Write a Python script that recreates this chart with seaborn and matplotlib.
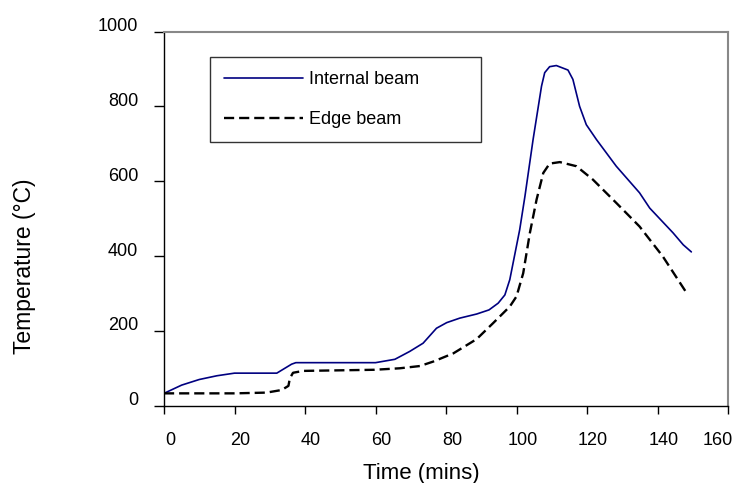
import matplotlib
matplotlib.use("Agg")
import matplotlib.pyplot as plt
import matplotlib.transforms as mtransforms
import seaborn as sns
import pandas as pd

# Internal beam (solid)
internal_time = [0, 5, 10, 15, 20, 32, 36.2, 37.4, 60, 65.5, 69.7, 73.5, 77.3, 80.2, 83.9,
                 88.7, 92.2, 94.8, 96.7, 98.1, 100.9, 102.4, 104.7, 107.1, 108, 109.4,
                 111.3, 114.6, 116, 117.9, 119.8, 122.7, 128.3, 134.9, 137.8, 144.4, 147.3, 149.6]
internal_temp = [33, 55, 70, 80, 87, 87, 111, 115, 115, 124, 145, 167, 207, 222, 234,
                 245, 256, 274, 296, 337, 470, 560, 711, 854, 890, 906,
                 909, 897, 872, 800, 751, 711, 640, 569, 528, 462, 430, 411]

# Edge beam (dashed)
edge_time = [0, 20, 29.1, 33.4, 35.3, 35.7, 36.6, 39.5, 59.7, 66.9, 72.6, 76.4, 82.1,
             88.7, 93.4, 98.1, 100, 101.9, 103.8, 105.7, 107.6, 109.4, 112.3, 117,
             121.7, 128.3, 134.9, 141.5, 148]
edge_temp = [33, 33, 35, 42, 53, 73, 88, 93, 96, 100, 106, 118, 140,
             178, 221, 265, 292, 354, 462, 551, 622, 647, 651, 640,
             604, 542, 479, 399, 305]

series_names = ["Internal beam", "Edge beam"]
x_ticks = [0, 20, 40, 60, 80, 100, 120, 140, 160]
y_ticks = [0, 200, 400, 600, 800, 1000]

df = pd.concat([
    pd.DataFrame({"Time": internal_time, "Temp": internal_temp, "Series": series_names[0]}),
    pd.DataFrame({"Time": edge_time, "Temp": edge_temp, "Series": series_names[1]}),
], ignore_index=True)

sns.set_theme(style="white")
plt.rcParams["font.family"] = ["Liberation Sans", "DejaVu Sans"]
plt.rcParams["text.color"] = "black"
plt.rcParams["xtick.color"] = "black"
plt.rcParams["ytick.color"] = "black"
plt.rcParams["axes.labelcolor"] = "black"

W, H = 737, 483
fig = plt.figure(figsize=(W / 100, H / 100), dpi=100)
ax = fig.add_axes([164 / W, 1 - 405.7 / H, (728 - 164) / W, (405.7 - 31.5) / H])

line_widths = [1.2, 1.7]
sns.lineplot(data=df, x="Time", y="Temp", hue="Series", style="Series",
             hue_order=series_names, style_order=series_names,
             palette={series_names[0]: "#000080", series_names[1]: "#000000"},
             dashes={series_names[0]: "", series_names[1]: (4.3, 2.1)},
             sort=False, estimator=None, ax=ax, legend=True)

for line, lw in zip(ax.lines, line_widths):
    line.set_linewidth(lw)

ax.set_xlim(0, 160)
ax.set_ylim(0, 1000)
ax.set_xticks(x_ticks)
ax.set_yticks(y_ticks)
ax.set_xticklabels([str(v) for v in x_ticks], fontsize=13)
ax.set_yticklabels([str(v) for v in y_ticks], fontsize=13)
ax.tick_params(axis="x", direction="out", length=6, width=1, color="black", pad=13, bottom=True)
ax.tick_params(axis="y", direction="out", length=7.5, width=1, color="black", pad=11, left=True)

# small offsets of tick labels as in the reference
xlabels = ax.get_xticklabels()
for i, lab in enumerate(xlabels):
    dx = 6 if i < len(xlabels) - 1 else -10
    lab.set_transform(lab.get_transform() + mtransforms.ScaledTranslation(dx / 100, 0, fig.dpi_scale_trans))
for lab in ax.get_yticklabels():
    lab.set_transform(lab.get_transform() + mtransforms.ScaledTranslation(0, 7 / 100, fig.dpi_scale_trans))

ax.set_xlabel("")
ax.set_ylabel("")
fig.text(421 / W, 1 - 478.5 / H, "Time (mins)", fontsize=16, ha="center", va="baseline")
fig.text(25 / W, 1 - 266 / H, "Temperature (°C)", fontsize=16.5, rotation=90,
         ha="center", va="center")

for s in ["left", "bottom"]:
    ax.spines[s].set_color("black")
    ax.spines[s].set_linewidth(1.0)
for s in ["top", "right"]:
    ax.spines[s].set_color("#888888")
    ax.spines[s].set_linewidth(1.5)

handles, labels = ax.get_legend_handles_labels()
for h, lw in zip(handles, line_widths):
    h.set_linewidth(lw)
leg = ax.legend(handles, labels, loc="upper left", bbox_to_anchor=(0.081, 0.931, 0.4815, 0.0),
                mode="expand", frameon=True, fancybox=False, fontsize=13,
                handlelength=4.4, handletextpad=0.35, labelspacing=1.28, borderpad=0.77,
                borderaxespad=0)
leg.get_frame().set_edgecolor("black")
leg.get_frame().set_linewidth(1.0)

fig.savefig("out.png", dpi=100, facecolor="white")
